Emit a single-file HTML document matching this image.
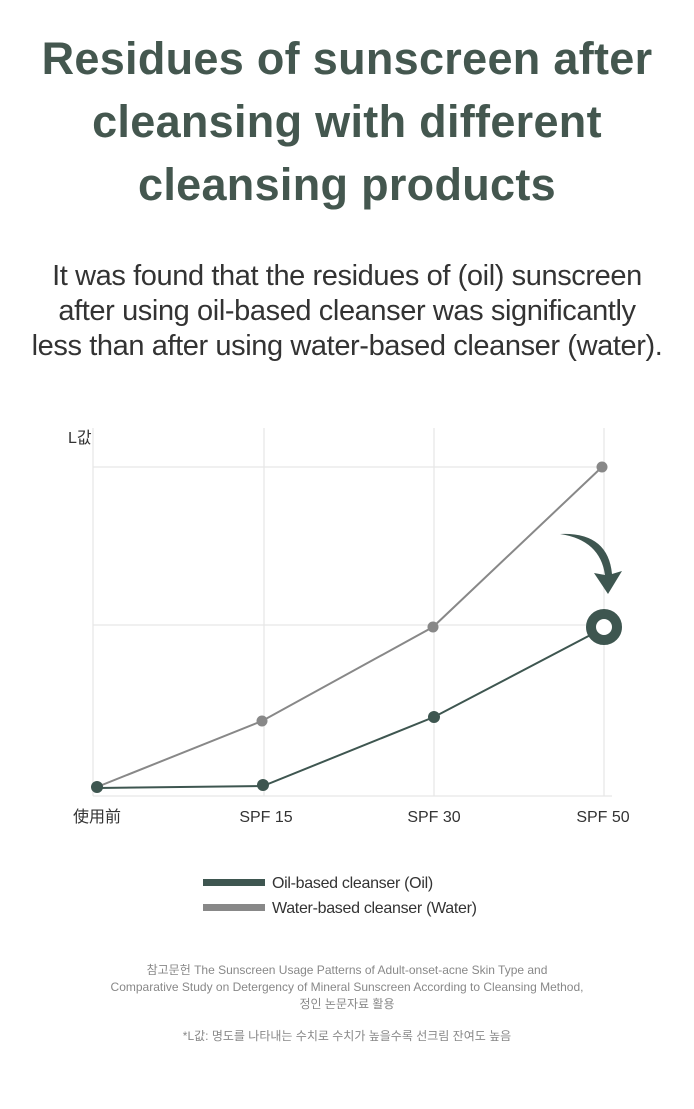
<!DOCTYPE html>
<html><head><meta charset="utf-8"><style>
body{margin:0;width:694px;height:1109px;background:#fff;overflow:hidden;font-family:"Liberation Sans","Noto Sans CJK KR",sans-serif;position:relative}
.t{position:absolute;left:0;width:694px;text-align:center}
h1{margin:0;font-size:45px;line-height:63px;color:#44574f;font-weight:bold;letter-spacing:0.3px}
.sub{font-size:29px;line-height:35px;color:#333;letter-spacing:-0.4px}
.ref{font-size:12px;line-height:17px;color:#888}
</style></head><body>
<div class="t" style="top:27px"><h1>Residues of sunscreen after<br>cleansing with different<br>cleansing products</h1></div>
<div class="t sub" style="top:259px">It was found that the residues of (oil) sunscreen<br>after using oil-based cleanser was significantly<br>less than after using water-based cleanser (water).</div>
<svg style="position:absolute;left:0;top:0" width="694" height="1109">
<g stroke="#e6e6e6" stroke-width="1.2">
<line x1="93" y1="467" x2="604" y2="467"/><line x1="93" y1="625" x2="604" y2="625"/>
<line x1="264" y1="428" x2="264" y2="796"/><line x1="434" y1="428" x2="434" y2="796"/><line x1="604" y1="428" x2="604" y2="796"/>
<line x1="93" y1="428" x2="93" y2="796"/><line x1="93" y1="796" x2="612" y2="796"/>
</g>
<polyline points="97,787 262,721 433,627 602,467" fill="none" stroke="#888" stroke-width="2"/>
<polyline points="97,788 263,786 434,717 600,630" fill="none" stroke="#3e5650" stroke-width="2"/>
<g fill="#888"><circle cx="262" cy="721" r="5.5"/><circle cx="433" cy="627" r="5.5"/><circle cx="602" cy="467" r="5.5"/></g>
<g fill="#3e5650"><circle cx="97" cy="787" r="6"/><circle cx="263" cy="785" r="6"/><circle cx="434" cy="717" r="6"/></g>
<circle cx="604" cy="627" r="13" fill="#fff" stroke="#3e5650" stroke-width="10"/>
<path d="M560,534 Q600,540 605,575 L594,573 L608,594 L622,571 L612,574 Q608,532 560,534 Z" fill="#3e5650"/>
<g font-size="16" fill="#333" text-anchor="middle" font-family="Liberation Sans,Noto Sans CJK KR,sans-serif">
<text x="68" y="443" text-anchor="start">L값</text>
<text x="97" y="822">使用前</text><text x="266" y="822">SPF 15</text><text x="434" y="822">SPF 30</text><text x="603" y="822">SPF 50</text>
</g>
<rect x="203" y="879" width="62" height="7" fill="#3e5650"/>
<rect x="203" y="904" width="62" height="7" fill="#888"/>
<g font-size="16" fill="#333" font-family="Liberation Sans,sans-serif" letter-spacing="-0.3">
<text x="272" y="888">Oil-based cleanser (Oil)</text><text x="272" y="913">Water-based cleanser (Water)</text>
</g>
</svg>
<div class="t ref" style="top:962px">참고문헌 The Sunscreen Usage Patterns of Adult-onset-acne Skin Type and<br>Comparative Study on Detergency of Mineral Sunscreen According to Cleansing Method,<br>정인 논문자료 활용</div>
<div class="t ref" style="top:1028px">*L값: 명도를 나타내는 수치로 수치가 높을수록 선크림 잔여도 높음</div>
</body></html>
